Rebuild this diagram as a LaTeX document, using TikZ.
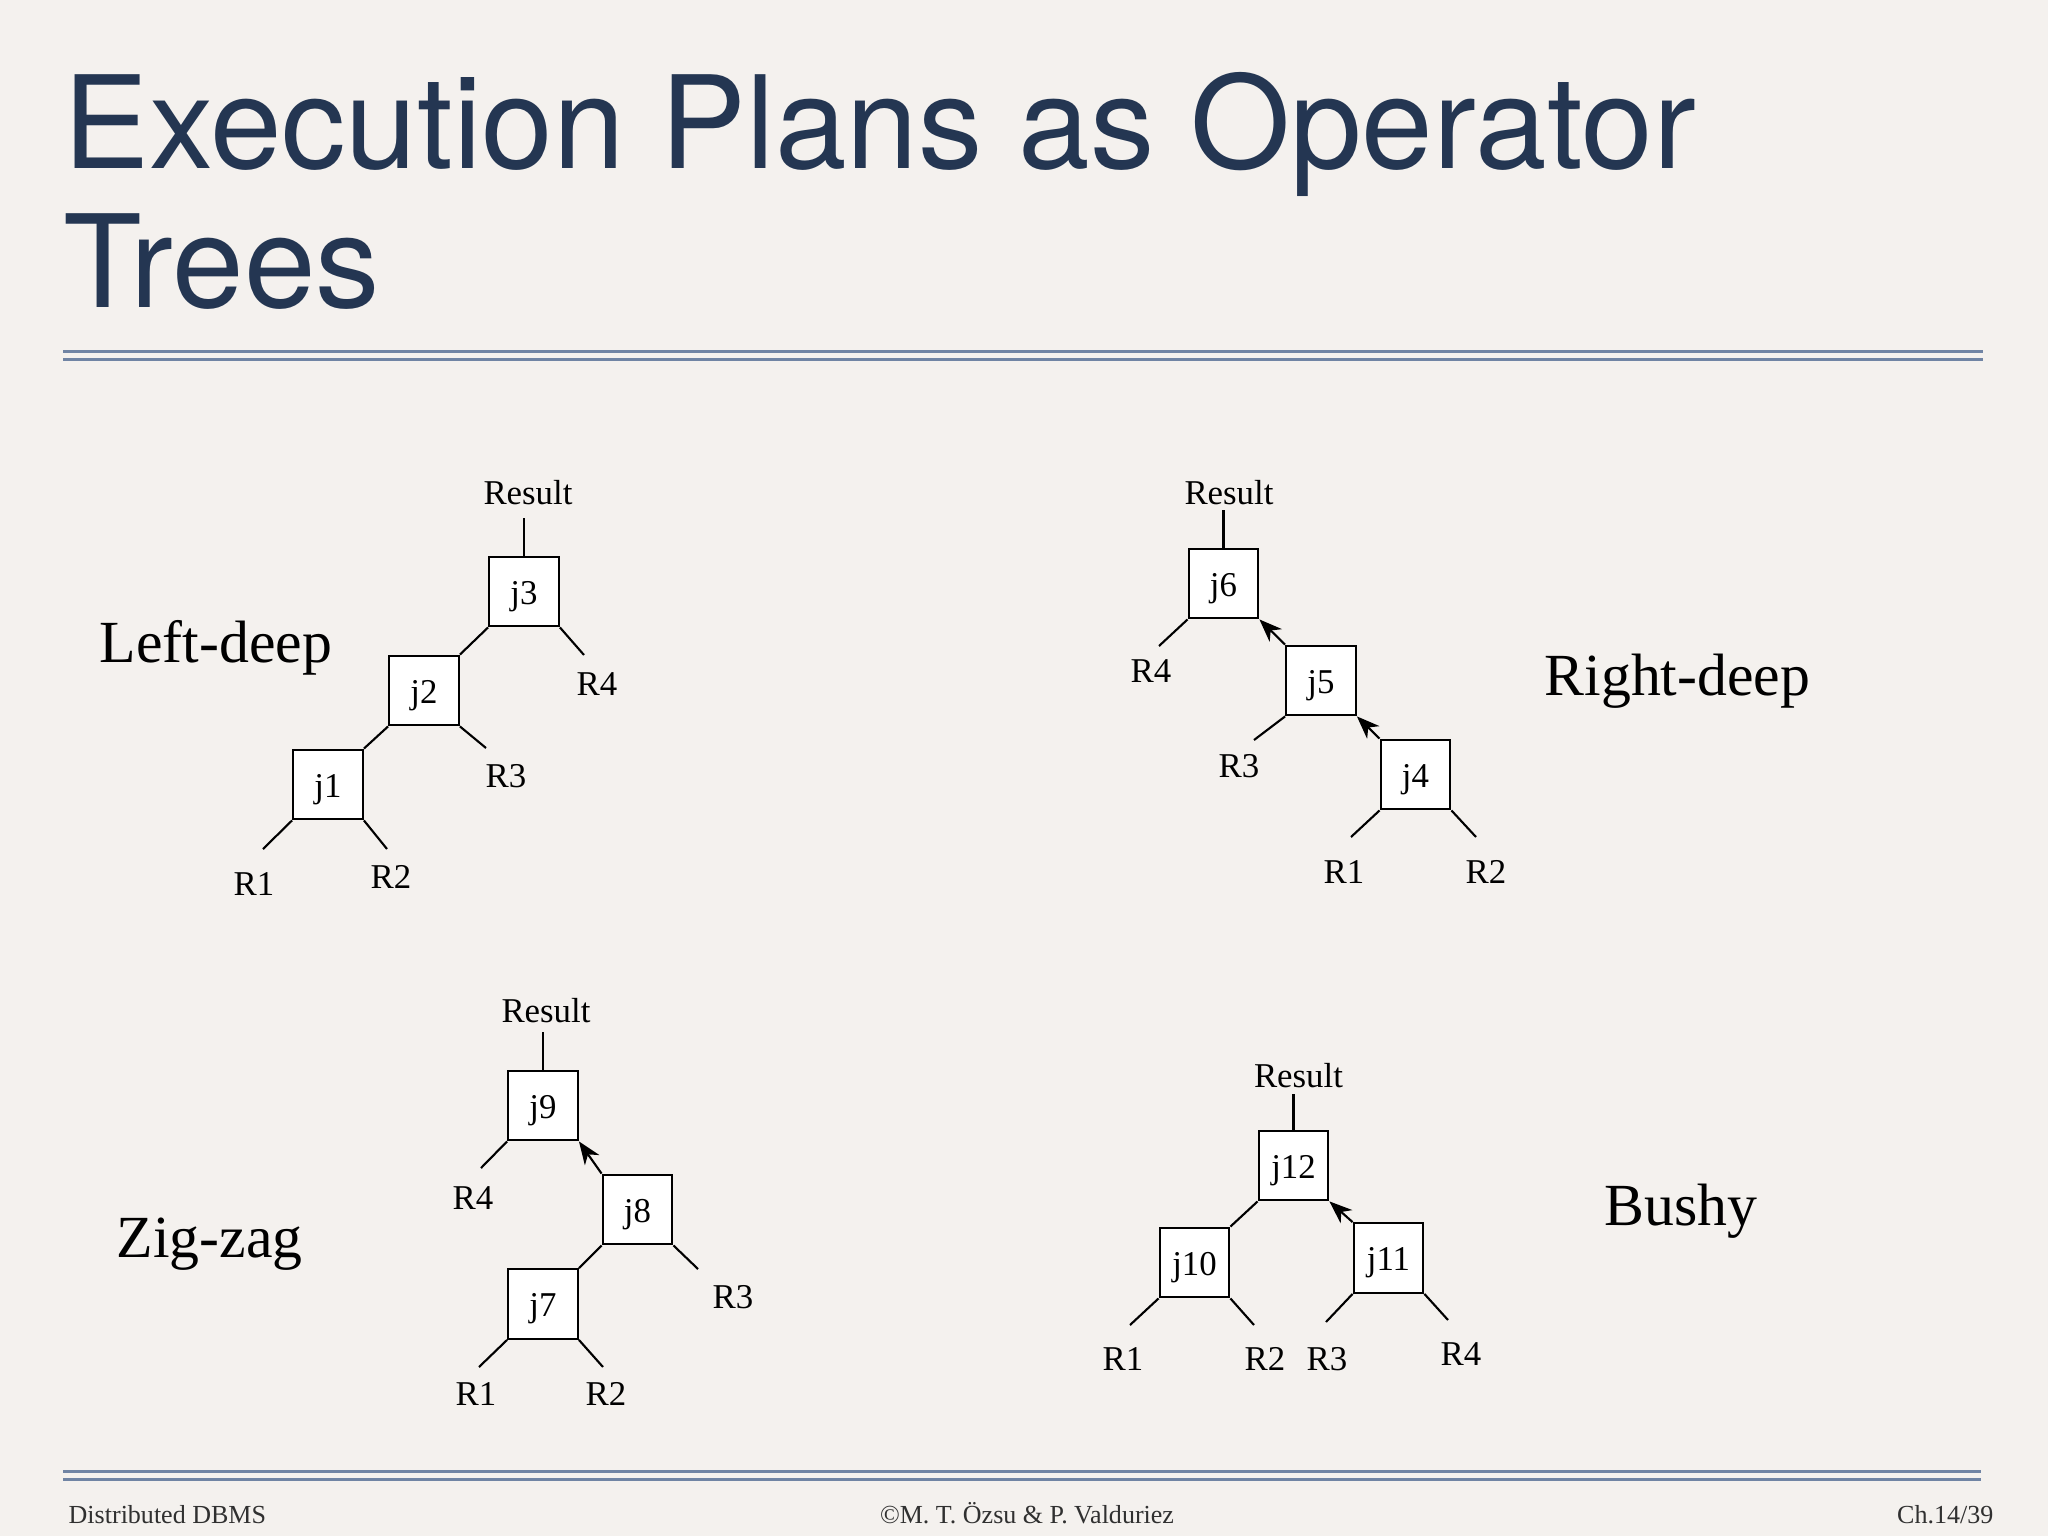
\documentclass[tikz,border=0pt]{standalone}
\usepackage{fontspec}
\setmainfont{Liberation Serif}
\newfontfamily\titlefont{TeX Gyre Heros}
\usetikzlibrary{arrows.meta}
\definecolor{bgc}{RGB}{244,241,238}
\definecolor{titlec}{RGB}{36,54,82}
\definecolor{rulec}{RGB}{112,132,164}
\definecolor{footc}{RGB}{48,48,48}
\begin{document}
\begin{tikzpicture}[x=0.01cm,y=-0.01cm,
  jbox/.style={draw=black,fill=white,line width=0.65pt,minimum width=0.695cm,minimum height=0.695cm,inner sep=0pt,text height=0.25cm,text depth=0pt,font=\fontsize{9.9}{12}\selectfont},
  lbl/.style={anchor=base,inner sep=0pt,font=\fontsize{9.9}{12}\selectfont},
  big/.style={anchor=base west,inner sep=0pt,font=\fontsize{17}{20}\selectfont},
  edge/.style={line width=0.6pt},
  arr/.style={line width=0.6pt,-{Stealth[length=6.5pt,width=5pt,inset=2pt]}},
  rul/.style={draw=rulec,line width=0.8pt},
  foot/.style={inner sep=0pt,font=\fontsize{7.4}{9}\selectfont,text=footc},
  ttl/.style={anchor=base west,inner sep=0pt,text=titlec,font=\titlefont\fontsize{36.6}{44}\selectfont}]

\fill[bgc] (0,0) rectangle (2048,1536);
\useasboundingbox (0,0) rectangle (2048,1536);

% Title
\node[ttl] (title1) at (63,168) {Execution Plans as Operator};
\node[ttl] (title2) at (63,307) {Trees};

% Rules
\coordinate (ta1) at (63,351.7); \coordinate (tb1) at (1983,351.7);
\coordinate (ta2) at (63,359.7); \coordinate (tb2) at (1983,359.7);
\coordinate (ba1) at (63,1471.7); \coordinate (bb1) at (1981,1471.7);
\coordinate (ba2) at (63,1479.7); \coordinate (bb2) at (1981,1479.7);
\draw[rul] (ta1) -- (tb1);
\draw[rul] (ta2) -- (tb2);
\draw[rul] (ba1) -- (bb1);
\draw[rul] (ba2) -- (bb2);

% Footer
\node[foot,anchor=base west] (f1) at (68,1523) {Distributed DBMS};
\node[foot,anchor=base] (f2) at (1027,1523) {©M. T. Özsu \& P. Valduriez};
\node[foot,anchor=base east] (f3) at (1994,1523) {Ch.14/39};

% ---------- Left-deep ----------
\node[big] (ldlab) at (99,662) {Left-deep};
\node[jbox] (j3) at (524,591.5) {j3};
\node[jbox] (j2) at (424,690.5) {j2};
\node[jbox] (j1) at (328,784.5) {j1};
\node[lbl] (res1) at (528,504) {Result};
\coordinate (res1b) at (524,518);
\node[lbl] (l1R4) at (597,695) {R4};
\node[lbl] (l1R3) at (506,787) {R3};
\node[lbl] (l1R1) at (254,895) {R1};
\node[lbl] (l1R2) at (391,888) {R2};
\coordinate (c1R4) at (584,655);
\coordinate (c1R3) at (486,748);
\coordinate (c1R1) at (263,849);
\coordinate (c1R2) at (387,849);
\draw[edge] (j3.north |- res1b) -- (j3.north);
\draw[edge] (j3.south west) -- (j2.north east);
\draw[edge] (j3.south east) -- (c1R4);
\draw[edge] (j2.south west) -- (j1.north east);
\draw[edge] (j2.south east) -- (c1R3);
\draw[edge] (j1.south west) -- (c1R1);
\draw[edge] (j1.south east) -- (c1R2);

% ---------- Right-deep ----------
\node[big] (rdlab) at (1544,695) {Right-deep};
\node[jbox] (j6) at (1223.5,583.5) {j6};
\node[jbox] (j5) at (1321,680.5) {j5};
\node[jbox] (j4) at (1415.5,774.5) {j4};
\node[lbl] (res2) at (1229,504) {Result};
\coordinate (res2b) at (1224,510);
\node[lbl] (l2R4) at (1151,682) {R4};
\node[lbl] (l2R3) at (1239,777) {R3};
\node[lbl] (l2R1) at (1344,883) {R1};
\node[lbl] (l2R2) at (1486,883) {R2};
\coordinate (c2R4) at (1159,646);
\coordinate (c2R3) at (1254,740);
\coordinate (c2R1) at (1351,837);
\coordinate (c2R2) at (1476,837);
\draw[edge] (j6.north |- res2b) -- (j6.north);
\draw[edge] (j6.south west) -- (c2R4);
\draw[edge] (j5.south west) -- (c2R3);
\draw[edge] (j4.south west) -- (c2R1);
\draw[edge] (j4.south east) -- (c2R2);
\draw[arr] (j5.north west) -- (j6.south east);
\draw[arr] (j4.north west) -- (j5.south east);

% ---------- Zig-zag ----------
\node[big] (zzlab) at (116,1257) {Zig-zag};
\node[jbox] (j9) at (543,1105.5) {j9};
\node[jbox] (j8) at (637.5,1209.5) {j8};
\node[jbox] (j7) at (543,1304) {j7};
\node[lbl] (res3) at (546,1022) {Result};
\coordinate (res3b) at (546,1032);
\node[lbl] (l3R4) at (473,1209) {R4};
\node[lbl] (l3R3) at (733,1308) {R3};
\node[lbl] (l3R1) at (476,1405) {R1};
\node[lbl] (l3R2) at (606,1405) {R2};
\coordinate (c3R4) at (481,1168);
\coordinate (c3R3) at (698,1269);
\coordinate (c3R1) at (479,1367);
\coordinate (c3R2) at (603,1367);
\draw[edge] (j9.north |- res3b) -- (j9.north);
\draw[edge] (j9.south west) -- (c3R4);
\draw[edge] (j8.south east) -- (c3R3);
\draw[edge] (j8.south west) -- (j7.north east);
\draw[edge] (j7.south west) -- (c3R1);
\draw[edge] (j7.south east) -- (c3R2);
\draw[arr] (j8.north west) -- (j9.south east);

% ---------- Bushy ----------
\node[big] (bulab) at (1604,1225) {Bushy};
\node[jbox] (j12) at (1293.5,1165.5) {j12};
\node[jbox] (j10) at (1194.5,1262.5) {j10};
\node[jbox] (j11) at (1388.5,1258) {j11};
\node[lbl] (res4) at (1298.5,1087) {Result};
\coordinate (res4b) at (1296,1094);
\node[lbl] (l4R1) at (1123,1370) {R1};
\node[lbl] (l4R2) at (1265,1370) {R2};
\node[lbl] (l4R3) at (1327,1370) {R3};
\node[lbl] (l4R4) at (1461,1365) {R4};
\coordinate (c4R1) at (1130,1325);
\coordinate (c4R2) at (1254,1325);
\coordinate (c4R3) at (1326,1322);
\coordinate (c4R4) at (1448,1320);
\draw[edge] (j12.north |- res4b) -- (j12.north);
\draw[edge] (j12.south west) -- (j10.north east);
\draw[edge] (j10.south west) -- (c4R1);
\draw[edge] (j10.south east) -- (c4R2);
\draw[edge] (j11.south west) -- (c4R3);
\draw[edge] (j11.south east) -- (c4R4);
\draw[arr] (j11.north west) -- (j12.south east);
\end{tikzpicture}
\end{document}
